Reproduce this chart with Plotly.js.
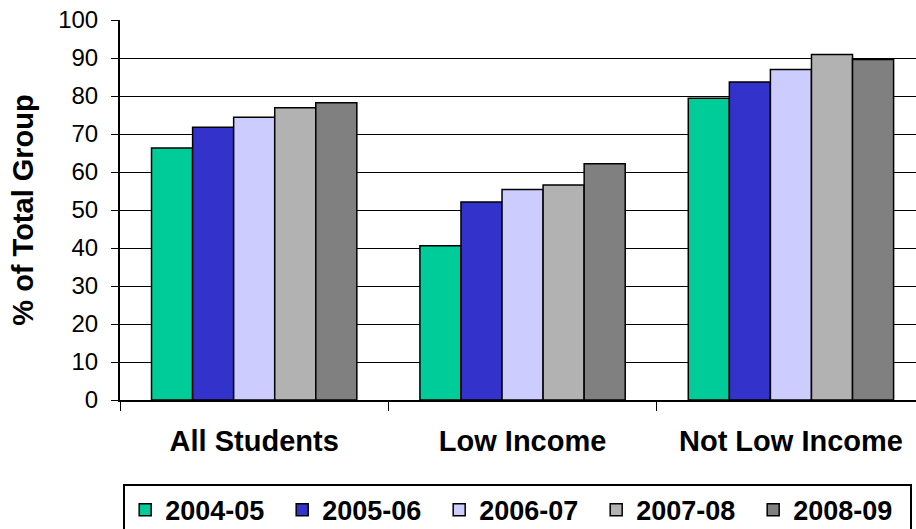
<!DOCTYPE html>
<html><head><meta charset="utf-8">
<script src="https://cdn.plot.ly/plotly-3.0.1.min.js"></script>
<style>html,body{margin:0;padding:0;background:#fff}#chart{width:916px;height:529px}</style>
</head><body><div id="chart"></div>
<script>
const categories = ["All Students", "Low Income", "Not Low Income"];
const seriesNames = ["2004-05", "2005-06", "2006-07", "2007-08", "2008-09"];
const s2004 = [66.3, 40.6, 79.4];
const s2005 = [71.8, 52.1, 83.7];
const s2006 = [74.4, 55.4, 87.0];
const s2007 = [76.9, 56.6, 90.9];
const s2008 = [78.2, 62.2, 89.6];
const yTicks = [0, 10, 20, 30, 40, 50, 60, 70, 80, 90, 100];
const colors = ["#00CC99", "#3333CC", "#CCCCFF", "#B2B2B2", "#808080"];
const values = [s2004, s2005, s2006, s2007, s2008];

const traces = values.map((v, i) => ({
  type: "bar", x: categories, y: v, name: seriesNames[i],
  marker: {color: colors[i], line: {color: "#000", width: 1.5}}
}));

const layout = {
  width: 916, height: 529,
  margin: {l: 120, r: 0, t: 20, b: 129, autoexpand: false},
  paper_bgcolor: "#fff", plot_bgcolor: "#fff",
  font: {family: "Liberation Sans, Arial, sans-serif", color: "#000"},
  barmode: "group", bargap: 0.235, bargroupgap: 0,
  xaxis: {
    type: "category", range: [-0.5, 2.466], tickson: "boundaries",
    ticks: "outside", ticklen: 9, tickcolor: "#000", tickwidth: 1,
    showline: true, linecolor: "#000", linewidth: 2, showgrid: false,
    tickfont: {size: 29, weight: "bold"},
    ticklabelstandoff: 14, fixedrange: true
  },
  yaxis: {
    range: [0, 100], tickvals: yTicks,
    ticks: "outside", ticklen: 7, tickcolor: "#000",
    showline: true, linecolor: "#000", linewidth: 2,
    showgrid: true, gridcolor: "#000", gridwidth: 1, zeroline: false,
    tickfont: {size: 24}, ticklabelstandoff: 8,
    title: {text: "% of Total Group", font: {size: 29, weight: "bold"}, standoff: 16}
  },
  legend: {
    orientation: "h", x: 0.004, xanchor: "left", y: -0.22, yanchor: "top",
    bordercolor: "#000", borderwidth: 2, bgcolor: "#fff",
    font: {size: 27, weight: "bold"}, entrywidth: 112, traceorder: "normal",
    itemwidth: 30
  },
  showlegend: true
};
Plotly.newPlot("chart", traces, layout, {displayModeBar: false, staticPlot: true});
</script></body></html>
